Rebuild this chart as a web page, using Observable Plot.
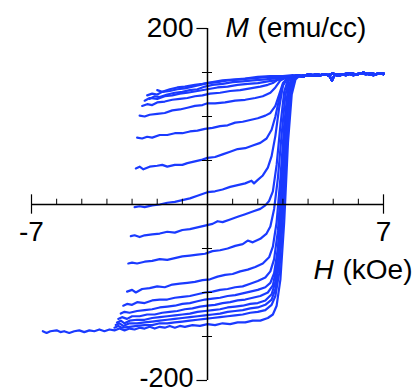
<!DOCTYPE html>
<html><head><meta charset="utf-8">
<script src="https://cdn.jsdelivr.net/npm/d3@7"></script>
<script src="https://cdn.jsdelivr.net/npm/@observablehq/plot@0.6"></script>
<style>body{margin:0;background:#fff;}</style>
</head><body>
<script>
// Upper cluster curves
const T1 = [[-2.4,124],[-2.2,126],[-2.0,125],[-1.8,128],[-1.5,129],[-1.2,131],[-0.9,132],[-0.6,134],[-0.3,136],[0,138],[0.4,139],[0.8,141],[1.2,142],[1.6,143],[2.0,144],[2.4,145],[2.8,145],[3.1,145],[3.3,146]];
const T2 = [[-2.3,120],[-2.1,123],[-1.9,122],[-1.6,125],[-1.3,127],[-1,128],[-0.7,130],[-0.4,131],[-0.1,134],[0.2,136],[0.6,137],[1.0,139],[1.4,140],[1.8,141],[2.2,142],[2.6,143],[2.9,143],[3.2,145],[3.4,146]];
const T3 = [[-2.0,130],[-1.8,128],[-1.5,131],[-1.2,133],[-0.9,134],[-0.5,136],[-0.2,137],[0.2,139],[0.6,141],[1.0,142],[1.5,143],[2.0,145],[2.5,146],[3.0,146],[3.4,147]];
const T4 = [[-2.5,118],[-2.3,121],[-2.0,120],[-1.7,123],[-1.4,124],[-1.1,126],[-0.8,127],[-0.4,129],[0,131],[0.4,133],[0.8,134],[1.2,136],[1.6,137],[2.0,138],[2.4,140],[2.7,141],[3.0,143],[3.3,145]];
const cF = [[-2.6,112],[-2.4,114],[-2.2,113],[-2.0,116],[-1.7,117],[-1.4,119],[-1.1,120],[-0.8,121],[-0.5,123],[-0.2,124],[0.1,126],[0.5,127],[0.9,129],[1.3,130],[1.7,132],[2.1,134],[2.4,136],[2.6,138],[2.8,142],[3.0,145],[3.3,146]];
const cE = [[-2.7,101],[-2.5,100],[-2.3,102],[-2.0,103],[-1.7,104],[-1.4,107],[-1.1,108],[-0.8,110],[-0.5,112],[-0.2,113],[0,115],[0.3,115],[0.7,116],[1.1,118],[1.5,119],[1.9,121],[2.2,123],[2.5,127],[2.7,133],[2.9,141],[3.1,144],[3.3,146]];
const cA = [[-2.8,76],[-2.6,75],[-2.4,77],[-2.2,76],[-1.9,79],[-1.6,79],[-1.3,81],[-1.0,81],[-0.7,83],[-0.4,84],[-0.1,86],[0.2,87],[0.5,89],[0.8,90],[1.1,93],[1.4,94],[1.7,96],[2.0,98],[2.3,101],[2.5,104],[2.7,112],[2.85,125],[3.0,138],[3.2,144],[3.4,146]];
const cB = [[-2.85,41],[-2.7,43],[-2.55,40],[-2.3,43],[-2.0,44],[-1.8,45],[-1.6,43],[-1.3,45],[-1.0,45],[-0.8,47],[-0.5,49],[-0.2,51],[0,53],[0.3,54],[0.6,57],[0.9,60],[1.2,63],[1.5,64],[1.8,67],[2.1,70],[2.35,75],[2.55,85],[2.7,100],[2.85,120],[3.0,136],[3.2,144],[3.4,146]];
const cC = [[-2.9,-3],[-2.7,-2],[-2.5,-3],[-2.2,-1],[-1.9,0],[-1.6,2],[-1.3,3],[-1.0,5],[-0.7,7],[-0.4,10],[-0.2,12],[0,14],[0.3,15],[0.6,17],[0.9,20],[1.2,22],[1.5,24],[1.75,27],[1.85,24],[2.0,28],[2.2,33],[2.4,42],[2.55,55],[2.7,78],[2.85,110],[3.0,135],[3.15,143],[3.35,146]];
const cD = [[-3.05,-36],[-2.9,-35],[-2.7,-37],[-2.5,-35],[-2.2,-34],[-1.9,-33],[-1.6,-31],[-1.3,-32],[-1.0,-29],[-0.7,-28],[-0.4,-26],[-0.1,-24],[0.2,-22],[0.4,-19],[0.6,-20],[0.9,-17],[1.2,-14],[1.5,-11],[1.8,-8],[2.1,-5],[2.3,-1],[2.45,4],[2.6,15],[2.75,45],[2.9,90],[3.05,128],[3.2,142],[3.4,146]];
const cG = [[-3.15,-67],[-3.0,-66],[-2.8,-67],[-2.5,-65],[-2.2,-64],[-1.9,-62],[-1.6,-63],[-1.3,-61],[-1.0,-59],[-0.7,-58],[-0.4,-57],[-0.1,-56],[0.2,-53],[0.5,-52],[0.8,-50],[1.1,-47],[1.4,-45],[1.6,-41],[1.8,-43],[2.1,-39],[2.35,-33],[2.5,-25],[2.65,-5],[2.8,30],[2.95,80],[3.1,125],[3.25,142],[3.45,146]];
const cH = [[-3.2,-99],[-3.0,-97],[-2.85,-100],[-2.6,-96],[-2.3,-95],[-2.0,-93],[-1.7,-94],[-1.4,-91],[-1.1,-90],[-0.8,-89],[-0.5,-88],[-0.2,-86],[0.1,-85],[0.4,-82],[0.7,-80],[1.0,-79],[1.3,-76],[1.6,-74],[1.9,-71],[2.2,-67],[2.45,-60],[2.6,-48],[2.75,-20],[2.9,30],[3.05,90],[3.2,132],[3.35,143],[3.5,146]];
const cI = [[-3.35,-115],[-3.2,-113],[-3.0,-114],[-2.8,-111],[-2.5,-112],[-2.2,-109],[-1.9,-108],[-1.6,-108],[-1.3,-106],[-1.0,-105],[-0.7,-104],[-0.4,-102],[-0.1,-100],[0.2,-99],[0.5,-97],[0.8,-96],[1.1,-94],[1.4,-93],[1.7,-90],[2.0,-87],[2.3,-83],[2.5,-76],[2.65,-62],[2.8,-30],[2.95,30],[3.1,95],[3.25,135],[3.4,144],[3.55,146]];
const cJ = [[-3.45,-124],[-3.3,-122],[-3.1,-123],[-2.8,-121],[-2.5,-120],[-2.2,-119],[-1.9,-117],[-1.6,-116],[-1.3,-115],[-1.0,-113],[-0.7,-112],[-0.4,-110],[-0.1,-108],[0.2,-107],[0.5,-106],[0.8,-104],[1.1,-103],[1.4,-101],[1.7,-99],[2.0,-97],[2.3,-94],[2.5,-89],[2.65,-78],[2.8,-50],[2.95,10],[3.1,80],[3.25,128],[3.4,143],[3.55,146]];
const cK = [[-3.55,-130],[-3.4,-128],[-3.2,-130],[-3.0,-127],[-2.7,-127],[-2.4,-125],[-2.1,-125],[-1.8,-123],[-1.5,-122],[-1.2,-121],[-0.9,-119],[-0.6,-118],[-0.3,-116],[0,-115],[0.3,-114],[0.6,-112],[0.9,-111],[1.2,-109],[1.5,-108],[1.8,-106],[2.1,-104],[2.4,-100],[2.6,-92],[2.75,-70],[2.9,-20],[3.05,60],[3.2,120],[3.35,141],[3.5,146]];
const cL = [[-3.6,-134],[-3.45,-132],[-3.3,-135],[-3.1,-132],[-2.8,-131],[-2.5,-131],[-2.2,-129],[-1.9,-128],[-1.6,-127],[-1.3,-126],[-1.0,-125],[-0.7,-124],[-0.4,-122],[-0.1,-121],[0.2,-120],[0.5,-119],[0.8,-117],[1.1,-116],[1.4,-115],[1.7,-113],[2.0,-112],[2.3,-109],[2.55,-102],[2.7,-88],[2.85,-50],[3.0,20],[3.15,95],[3.3,135],[3.45,145]];
const cM1 = [[-3.65,-137],[-3.5,-135],[-3.35,-138],[-3.1,-135],[-2.8,-135],[-2.5,-134],[-2.2,-133],[-1.9,-132],[-1.6,-131],[-1.3,-130],[-1.0,-129],[-0.7,-128],[-0.4,-127],[-0.1,-126],[0.2,-125],[0.5,-124],[0.8,-122],[1.1,-121],[1.4,-120],[1.7,-118],[2.0,-117],[2.3,-114],[2.55,-108],[2.7,-96],[2.85,-65],[3.0,0],[3.15,80],[3.3,130],[3.45,144]];
const cM2 = [[-3.7,-140],[-3.55,-138],[-3.4,-140],[-3.1,-139],[-2.8,-138],[-2.5,-137],[-2.2,-137],[-1.9,-135],[-1.6,-135],[-1.3,-134],[-1.0,-133],[-0.7,-132],[-0.4,-131],[-0.1,-130],[0.2,-129],[0.5,-128],[0.8,-127],[1.1,-126],[1.4,-125],[1.7,-123],[2.0,-122],[2.3,-120],[2.55,-114],[2.7,-104],[2.85,-78],[3.0,-15],[3.15,70],[3.3,125],[3.45,143],[3.6,146]];
const cMain = [[-6.55,-144],[-6.4,-146],[-6.25,-144],[-6.0,-143],[-5.85,-145],[-5.7,-144],[-5.5,-146],[-5.3,-144],[-5.1,-143],[-4.9,-145],[-4.7,-143],[-4.5,-144],[-4.3,-142],[-4.1,-144],[-3.9,-142],[-3.7,-143],[-3.5,-141],[-3.3,-143],[-3.1,-141],[-2.9,-142],[-2.7,-140],[-2.5,-141],[-2.3,-139],[-2.1,-141],[-1.9,-139],[-1.7,-140],[-1.5,-138],[-1.3,-140],[-1.1,-138],[-0.9,-139],[-0.6,-137],[-0.3,-138],[0,-136],[0.3,-137],[0.6,-135],[0.9,-136],[1.2,-134],[1.5,-134],[1.8,-132],[2.1,-132],[2.4,-129],[2.6,-125],[2.75,-115],[2.9,-85],[3.05,-20],[3.2,70],[3.35,125],[3.5,142],[3.65,146]];
// Shared saturated plateau (two noisy variants)
const platA = [[3.5,145],[3.7,146],[3.9,147],[4.1,146],[4.3,148],[4.5,147],[4.7,148],[4.85,146],[4.95,141],[5.05,147],[5.3,148],[5.5,147],[5.7,149],[5.9,148],[6.1,149],[6.3,148],[6.5,149],[6.7,148],[6.9,149],[7.0,148]];
const platB = [[3.6,147],[3.8,145],[4.0,148],[4.2,147],[4.4,146],[4.6,148],[4.8,147],[5.0,149],[5.2,146],[5.4,148],[5.6,149],[5.8,147],[6.0,148],[6.2,150],[6.4,148],[6.6,147],[6.8,149],[7.0,149]];
// Axis ticks and labels
const xMinor = [-6,-5,-4,-3,-2,-1,1,2,3,4,5,6];
const xEnds = [-7, 7];
const yMinor = [-150,-100,-50,50,100,150];
const yEnds = [-200, 200];

const curves = [T1,T2,T3,T4,cF,cE,cA,cB,cC,cD,cG,cH,cI,cJ,cK,cL,cM1,cM2,cMain];
const rows = [];
curves.forEach((c, i) => {
  const plat = i % 2 ? platB : platA;
  const last = c[c.length - 1][0];
  [...c, ...plat.filter(p => p[0] > last)].forEach(([h, m]) => rows.push({id: i, h, m}));
});

const font = "Liberation Sans, Arial, Helvetica, sans-serif";
const chart = Plot.plot({
  width: 420, height: 392,
  marginLeft: 31, marginRight: 37, marginTop: 28, marginBottom: 12,
  x: {domain: [-7, 7], axis: null},
  y: {domain: [-200, 200], axis: null},
  style: {fontFamily: font, background: "white", color: "black"},
  marks: [
    Plot.line(rows, {x: "h", y: "m", z: "id", stroke: "#1a3aff", strokeWidth: 2.2, strokeLinejoin: "round"}),
    Plot.ruleY([0], {x1: -7, x2: 7, stroke: "black", strokeWidth: 1.5}),
    Plot.ruleX([0], {y1: -200, y2: 200, stroke: "black", strokeWidth: 1.5}),
    Plot.ruleX(xMinor, {x: d => d, y1: 0, y2: 6, stroke: "black", strokeWidth: 1}),
    Plot.ruleX(xEnds, {x: d => d, y1: -11, y2: 11, stroke: "black", strokeWidth: 1.2}),
    Plot.ruleY(yMinor, {y: d => d, x1: -0.2, x2: 0.2, stroke: "black", strokeWidth: 1}),
    Plot.ruleY(yEnds, {y: d => d, x1: -0.42, x2: 0, stroke: "black", strokeWidth: 1.2}),
    Plot.text([200], {x: 0, y: d => d, text: d => String(d), textAnchor: "end", dx: -14, fontSize: 28, lineAnchor: "middle", fill: "black"}),
    Plot.text([-200], {x: 0, y: d => d, text: d => String(d), textAnchor: "end", dx: -14, dy: -2, fontSize: 27, lineAnchor: "middle", fill: "black"}),
    Plot.text(xEnds, {x: d => d, y: 0, text: d => String(d), textAnchor: "middle", dy: 28, fontSize: 28, lineAnchor: "middle", fill: "black"}),
    Plot.text(["M"], {x: 0, y: 200, text: d => d, textAnchor: "start", dx: 18, fontSize: 28, fontStyle: "italic", lineAnchor: "middle", fill: "black"}),
    Plot.text(["(emu/cc)"], {x: 0, y: 200, text: d => d, textAnchor: "start", dx: 50, fontSize: 28, lineAnchor: "middle", fill: "black"}),
    Plot.text(["H"], {x: 7, y: 0, text: d => d, textAnchor: "start", dx: -70, dy: 66, fontSize: 28, fontStyle: "italic", lineAnchor: "middle", fill: "black"}),
    Plot.text(["(kOe)"], {x: 7, y: 0, text: d => d, textAnchor: "start", dx: -41, dy: 66, fontSize: 28, lineAnchor: "middle", fill: "black"})
  ]
});
document.body.appendChild(chart);
</script>
</body></html>
